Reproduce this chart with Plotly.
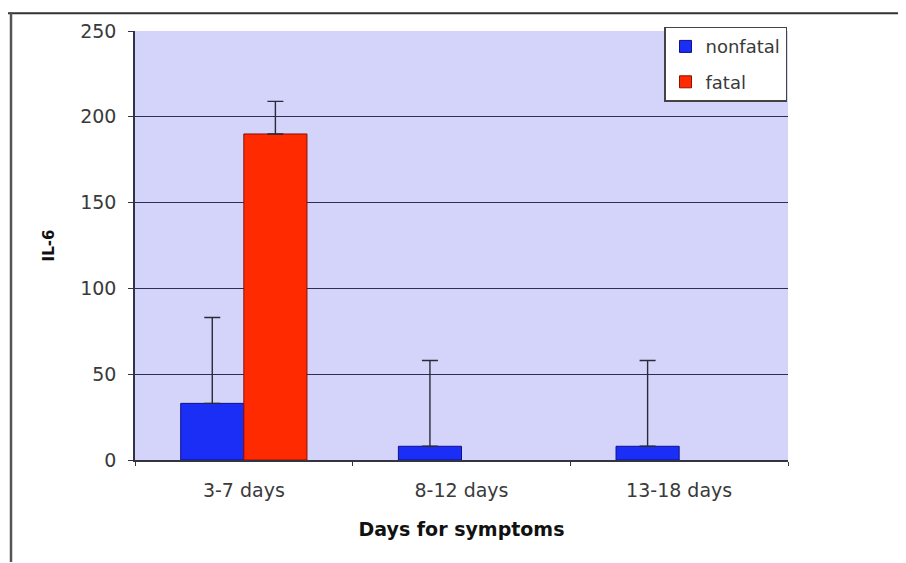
import plotly.graph_objects as go

categories = ["3-7 days", "8-12 days", "13-18 days"]
nonfatal = [33, 8, 8]
nonfatal_err = [50, 50, 50]
fatal = [190, None, None]
fatal_err = [19, None, None]
y_ticks = [0, 50, 100, 150, 200, 250]

FONT = "DejaVu Sans, Verdana, sans-serif"

# page body has an 8px margin, so figure is 898x555 drawn at (8,8)
W, H = 898, 555
L, T = 127, 19
PW, PH = 653, 433

fig = go.Figure()
fig.add_trace(go.Bar(
    name="nonfatal", x=categories, y=nonfatal, legendgroup="a",
    marker=dict(color="#1a2ef5", line=dict(color="#10108a", width=1)),
    error_y=dict(type="data", array=nonfatal_err, symmetric=False, arrayminus=[0, 0, 0],
                 color="#2a2a3a", thickness=1.4, width=8),
))
fig.add_trace(go.Bar(
    name="fatal", x=categories, y=fatal, legendgroup="b",
    marker=dict(color="#ff2a00", line=dict(color="#8a1000", width=1)),
    error_y=dict(type="data", array=fatal_err, symmetric=False, arrayminus=[0, 0, 0],
                 color="#2a2a3a", thickness=1.4, width=8),
))

fig.update_layout(
    width=W, height=H,
    margin=dict(l=L, r=W - L - PW, t=T, b=H - T - PH),
    paper_bgcolor="white", plot_bgcolor="#d4d4fa",
    barmode="group", bargap=0.42, bargroupgap=0,
    font=dict(family=FONT, size=18, color="#3a3a3a"),
    showlegend=True,
    legend=dict(x=(656 - L) / PW, y=1.01, xanchor="left", yanchor="top",
                bgcolor="white", bordercolor="#444444", borderwidth=1.5,
                font=dict(size=18, color="#3a3a3a"), tracegroupgap=9,
                itemwidth=30),
    xaxis=dict(
        showline=True, linecolor="#333344", linewidth=1.5,
        ticks="outside", ticklen=4, tickcolor="#333344", tickson="boundaries",
        tickfont=dict(size=19, color="#3a3a3a"), ticklabelstandoff=12,
        title=dict(text="<b>Days for symptoms</b>", font=dict(size=19, color="#111111"), standoff=23),
    ),
    yaxis=dict(
        range=[0, 250], tickvals=y_ticks, showline=True, linecolor="#333344", linewidth=1.5,
        ticks="outside", ticklen=5, tickcolor="#333344", ticklabelstandoff=8,
        showgrid=True, gridcolor="#2e2e50", gridwidth=1.2, zeroline=False,
        tickfont=dict(size=19, color="#3a3a3a"),
        title=dict(text="<b>IL-6</b>", font=dict(size=15, color="#111111"), standoff=22),
    ),
    shapes=[
        dict(type="line", xref="paper", yref="paper",
             x0=(0 - L) / PW, x1=(W - L) / PW, y0=(T + PH - 1) / PH, y1=(T + PH - 1) / PH,
             line=dict(color="#333333", width=2)),
        dict(type="line", xref="paper", yref="paper",
             x0=(3 - L) / PW, x1=(3 - L) / PW, y0=(T + PH - 0) / PH, y1=(T + PH - H) / PH,
             line=dict(color="#555555", width=2.5)),
    ],
)

fig.write_html("out.html")
